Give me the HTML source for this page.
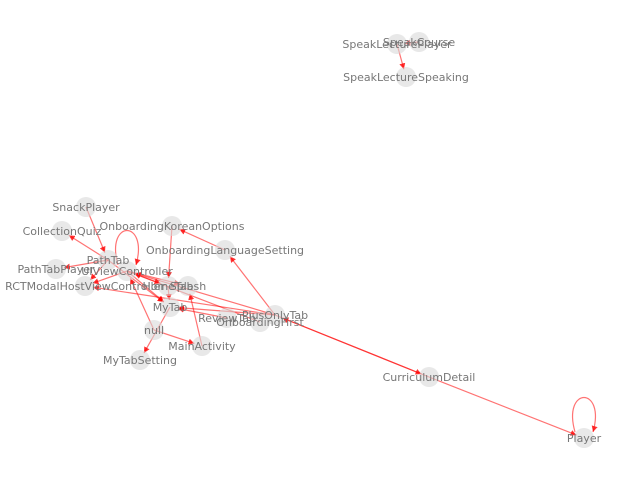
<!DOCTYPE html>
<html><head><meta charset="utf-8"><style>
html,body{margin:0;padding:0;background:#fff;}
svg{display:block;}
text{font-family:"DejaVu Sans","Liberation Sans",sans-serif;font-size:11px;fill:#777;}
</style></head><body>
<svg id="g" width="640" height="480" xmlns="http://www.w3.org/2000/svg">
<defs><marker id="arr" viewBox="0 0 10 10" refX="10" refY="5" markerWidth="5" markerHeight="5" orient="auto"><path d="M0,0L10,5L0,10z" fill="#f00" fill-opacity="0.8"/></marker></defs>
<g id="edges"></g><g id="nodes"></g><g id="labels"></g>
</svg>
<script>
const nodeNames=["SpeakLecturePlayer","SpeakCourse","SpeakLectureSpeaking","SnackPlayer","CollectionQuiz","PathTab","PathTabPlayer","RCTModalHostViewController","UIViewController","HomeTab","Splash","OnboardingKoreanOptions","OnboardingLanguageSetting","MyTab","null","MyTabSetting","MainActivity","ReviewTab","PlusOnlyTab","OnboardingFirst","CurriculumDetail","Player"];
const nodeX=[397,419,406,86,62,108,56,85,127,168,188,172,225,170,154,140,202,227,275,260,429,584];
const nodeY=[44,42,77,207,231,260,269,286,271,286,286,226,250,307,330,360,346,318,315,322,377,438];
const edgeSrc=["SpeakCourse","SpeakLecturePlayer","SnackPlayer","PathTab","PathTab","PathTab","UIViewController","UIViewController","UIViewController","UIViewController","PathTab","OnboardingKoreanOptions","OnboardingLanguageSetting","PlusOnlyTab","PlusOnlyTab","OnboardingFirst","PlusOnlyTab","HomeTab","null","null","MyTab","MainActivity","ReviewTab","PlusOnlyTab","CurriculumDetail","CurriculumDetail","PlusOnlyTab","UIViewController","Player"];
const edgeDst=["SpeakLecturePlayer","SpeakLectureSpeaking","PathTab","CollectionQuiz","PathTabPlayer","RCTModalHostViewController","RCTModalHostViewController","HomeTab","Splash","MyTab","MyTab","HomeTab","OnboardingKoreanOptions","OnboardingLanguageSetting","UIViewController","UIViewController","RCTModalHostViewController","MyTab","UIViewController","MainActivity","MyTabSetting","Splash","MyTab","CurriculumDetail","PlusOnlyTab","Player","MyTab","UIViewController","Player"];
const NS="http://www.w3.org/2000/svg";
const E=document.getElementById('edges'),N=document.getElementById('nodes'),L=document.getElementById('labels');
function idx(n){return nodeNames.indexOf(n);}
for(let k=0;k<edgeSrc.length;k++){
 const a=idx(edgeSrc[k]),b=idx(edgeDst[k]);
 const x1=nodeX[a],y1=nodeY[a],x2=nodeX[b],y2=nodeY[b];
 let p=document.createElementNS(NS,'path');
 if(a===b){
  p.setAttribute('d',`M${x1-9},${y1-6} C${x1-22},${y1-52} ${x1+22},${y1-52} ${x1+9},${y1-6}`);
 } else {
  const dx=x2-x1,dy=y2-y1,d=Math.hypot(dx,dy)||1;
  const s=Math.min(8,d/3);
  p.setAttribute('d',`M${x1},${y1} L${x2-dx/d*s},${y2-dy/d*s}`);
 }
 p.setAttribute('stroke','#f00');p.setAttribute('stroke-opacity','0.55');p.setAttribute('stroke-width','1.2');p.setAttribute('fill','none');
 p.setAttribute('marker-end','url(#arr)');
 
 
 E.appendChild(p);
}
for(let i=0;i<nodeNames.length;i++){
 let c=document.createElementNS(NS,'circle');
 c.setAttribute('cx',nodeX[i]);c.setAttribute('cy',nodeY[i]);c.setAttribute('r','10');
 c.setAttribute('fill','#d8d8d8');c.setAttribute('fill-opacity','0.6');
 
 
 N.appendChild(c);
 let t=document.createElementNS(NS,'text');
 t.setAttribute('x',nodeX[i]);t.setAttribute('y',nodeY[i]+4);t.setAttribute('text-anchor','middle');
 t.textContent=nodeNames[i];
 
 
 L.appendChild(t);
}
</script>
</body></html>
